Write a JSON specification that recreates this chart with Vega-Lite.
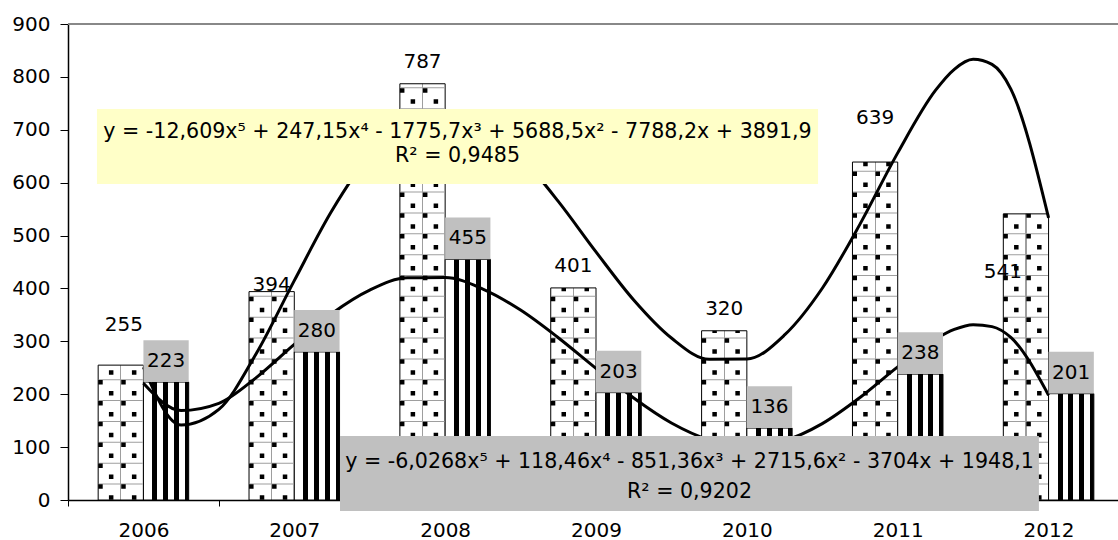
{
  "$schema": "https://vega.github.io/schema/vega-lite/v6.json",
  "width": 1050,
  "height": 476,
  "autosize": "none",
  "padding": {"left": 68, "top": 24, "right": 0, "bottom": 40},
  "background": "white",
  "config": {"view": {"stroke": null}, "font": "DejaVu Sans"},
  "datasets": {
    "bars": [
      {"year": "2006", "s": "A", "v": 255}, {"year": "2006", "s": "B", "v": 223},
      {"year": "2007", "s": "A", "v": 394}, {"year": "2007", "s": "B", "v": 280},
      {"year": "2008", "s": "A", "v": 787}, {"year": "2008", "s": "B", "v": 455},
      {"year": "2009", "s": "A", "v": 401}, {"year": "2009", "s": "B", "v": 203},
      {"year": "2010", "s": "A", "v": 320}, {"year": "2010", "s": "B", "v": 136},
      {"year": "2011", "s": "A", "v": 639}, {"year": "2011", "s": "B", "v": 238},
      {"year": "2012", "s": "A", "v": 541}, {"year": "2012", "s": "B", "v": 201}
    ],
    "trend": [
      {"s": "A", "t": 1, "v": 251.04}, {"s": "A", "t": 1.25, "v": 141.68}, {"s": "A", "t": 1.5, "v": 171.18},
      {"s": "A", "t": 1.75, "v": 277.98}, {"s": "A", "t": 2, "v": 414.81}, {"s": "A", "t": 2.25, "v": 547.23},
      {"s": "A", "t": 2.5, "v": 652.16}, {"s": "A", "t": 2.75, "v": 716.38}, {"s": "A", "t": 3, "v": 735.06},
      {"s": "A", "t": 3.25, "v": 710.31}, {"s": "A", "t": 3.5, "v": 649.65}, {"s": "A", "t": 3.75, "v": 564.58},
      {"s": "A", "t": 4, "v": 469.08}, {"s": "A", "t": 4.25, "v": 378.14}, {"s": "A", "t": 4.5, "v": 306.26},
      {"s": "A", "t": 4.75, "v": 266.01}, {"s": "A", "t": 5, "v": 266.53}, {"s": "A", "t": 5.25, "v": 312.04},
      {"s": "A", "t": 5.5, "v": 400.41}, {"s": "A", "t": 5.75, "v": 521.61}, {"s": "A", "t": 6, "v": 656.32},
      {"s": "A", "t": 6.25, "v": 774.35}, {"s": "A", "t": 6.375, "v": 814.37}, {"s": "A", "t": 6.5, "v": 833.26},
      {"s": "A", "t": 6.625, "v": 823.56}, {"s": "A", "t": 6.75, "v": 776.83}, {"s": "A", "t": 7, "v": 533.59},
      {"s": "B", "t": 1, "v": 220.77}, {"s": "B", "t": 1.25, "v": 169.23}, {"s": "B", "t": 1.5, "v": 182.8},
      {"s": "B", "t": 1.75, "v": 231.97}, {"s": "B", "t": 2, "v": 294.12}, {"s": "B", "t": 2.25, "v": 352.77},
      {"s": "B", "t": 2.5, "v": 396.89}, {"s": "B", "t": 2.75, "v": 420.22}, {"s": "B", "t": 3, "v": 420.53},
      {"s": "B", "t": 3.25, "v": 398.93}, {"s": "B", "t": 3.5, "v": 359.16}, {"s": "B", "t": 3.75, "v": 306.88},
      {"s": "B", "t": 4, "v": 248.98}, {"s": "B", "t": 4.25, "v": 192.85}, {"s": "B", "t": 4.5, "v": 145.68},
      {"s": "B", "t": 4.75, "v": 113.79}, {"s": "B", "t": 5, "v": 101.85}, {"s": "B", "t": 5.25, "v": 112.25},
      {"s": "B", "t": 5.5, "v": 144.34}, {"s": "B", "t": 5.75, "v": 193.76}, {"s": "B", "t": 6, "v": 251.7},
      {"s": "B", "t": 6.25, "v": 304.23}, {"s": "B", "t": 6.375, "v": 322.53}, {"s": "B", "t": 6.5, "v": 331.57},
      {"s": "B", "t": 6.625, "v": 327.83}, {"s": "B", "t": 6.75, "v": 307.37}, {"s": "B", "t": 7, "v": 198.05}
    ],
    "notes": [
      {"k": "eqA", "label": "y = -12,609x⁵ + 247,15x⁴ - 1775,7x³ + 5688,5x² - 7788,2x + 3891,9"},
      {"k": "r2A", "label": "R² = 0,9485"},
      {"k": "eqB", "label": "y = -6,0268x⁵ + 118,46x⁴ - 851,36x³ + 2715,6x² - 3704x + 1948,1"},
      {"k": "r2B", "label": "R² = 0,9202"}
    ]
  },
  "layer": [
    {
      "data": {"name": "bars"},
      "layer": [
        {
          "transform": [{"filter": "datum.s === 'A'"}],
          "mark": {
            "type": "bar", "stroke": "black", "strokeWidth": 1,
            "fill": {"gradient": "linear", "x1": 0, "y1": 0, "x2": 1, "y2": 0,
              "stops": [
                {"offset": 0, "color": "#ffffff"}, {"offset": 0.49, "color": "#ffffff"},
                {"offset": 0.49, "color": "#9e9e9e"}, {"offset": 0.515, "color": "#9e9e9e"},
                {"offset": 0.515, "color": "#ffffff"}, {"offset": 1, "color": "#ffffff"}
              ]}
          },
          "encoding": {
            "x": {"field": "year", "type": "nominal", "title": null,
              "scale": {"domain": ["2006", "2007", "2008", "2009", "2010", "2011", "2012"], "paddingInner": 0.4, "paddingOuter": 0.2, "range": [0, 1056]},
              "axis": {"bandPosition": 0, "tickOffset": -30.17, "labelOffset": 30.17, "labelAngle": 0,
                "domainColor": "black", "domainWidth": 1.5, "tickColor": "black", "tickWidth": 1, "tickSize": 6,
                "labelFont": "DejaVu Sans", "labelFontSize": 20, "labelColor": "black", "labelPadding": 14}},
            "xOffset": {"field": "s", "type": "nominal", "scale": {"domain": ["A", "B"], "paddingInner": 0, "paddingOuter": 0}},
            "y": {"field": "v", "type": "quantitative", "title": null,
              "scale": {"domain": [0, 900], "nice": false},
              "axis": {"values": [0, 100, 200, 300, 400, 500, 600, 700, 800, 900], "grid": false, "domainColor": "black", "domainWidth": 1.5,
                "tickColor": "black", "tickWidth": 1, "tickSize": 8, "labelPadding": 10,
                "labelFont": "DejaVu Sans", "labelFontSize": 20, "labelColor": "black"}}
          }
        },
        {
          "transform": [{"filter": "datum.s === 'B'"}],
          "mark": {
            "type": "bar", "stroke": "black", "strokeWidth": 1,
            "fill": {"gradient": "linear", "x1": 0, "y1": 0, "x2": 1, "y2": 0,
              "stops": [
                {"offset": 0, "color": "#ffffff"}, {"offset": 0.2, "color": "#ffffff"},
                {"offset": 0.2, "color": "#000000"}, {"offset": 0.31, "color": "#000000"},
                {"offset": 0.31, "color": "#ffffff"}, {"offset": 0.44, "color": "#ffffff"},
                {"offset": 0.44, "color": "#000000"}, {"offset": 0.55, "color": "#000000"},
                {"offset": 0.55, "color": "#ffffff"}, {"offset": 0.68, "color": "#ffffff"},
                {"offset": 0.68, "color": "#000000"}, {"offset": 0.79, "color": "#000000"},
                {"offset": 0.79, "color": "#ffffff"}, {"offset": 0.92, "color": "#ffffff"},
                {"offset": 0.92, "color": "#000000"}, {"offset": 1, "color": "#000000"}
              ]}
          },
          "encoding": {
            "x": {"field": "year", "type": "nominal", "title": null},
            "xOffset": {"field": "s", "type": "nominal", "scale": {"domain": ["A", "B"], "paddingInner": 0, "paddingOuter": 0}},
            "y": {"field": "v", "type": "quantitative", "title": null, "scale": {"domain": [0, 900], "nice": false}}
          }
        },
        {
          "transform": [{"filter": "datum.s === 'A'"}, {"stack": "v", "groupby": ["year", "s"], "as": ["v0", "v1"]}],
          "mark": {"type": "rule", "color": "#9e9e9e", "strokeWidth": 44, "strokeCap": "butt", "strokeDash": [1, 19.85], "strokeDashOffset": 5.35, "xOffset": 22.63},
          "encoding": {
            "x": {"field": "year", "type": "nominal", "bandPosition": 0, "title": null},
            "y": {"field": "v0", "type": "quantitative", "title": null, "scale": {"domain": [0, 900], "nice": false}},
            "y2": {"field": "v1"}
          }
        },
        {
          "transform": [{"filter": "datum.s === 'A'"}, {"stack": "v", "groupby": ["year", "s"], "as": ["v0", "v1"]}],
          "mark": {"type": "rule", "color": "black", "strokeWidth": 4.5, "strokeCap": "butt", "strokeDash": [4.5, 16.35], "strokeDashOffset": 9.65, "xOffset": 2.3},
          "encoding": {
            "x": {"field": "year", "type": "nominal", "bandPosition": 0, "title": null},
            "y": {"field": "v0", "type": "quantitative", "title": null, "scale": {"domain": [0, 900], "nice": false}},
            "y2": {"field": "v1"}
          }
        },
        {
          "transform": [{"filter": "datum.s === 'A'"}, {"stack": "v", "groupby": ["year", "s"], "as": ["v0", "v1"]}],
          "mark": {"type": "rule", "color": "black", "strokeWidth": 4.5, "strokeCap": "butt", "strokeDash": [4.5, 16.35], "strokeDashOffset": 9.65, "xOffset": 25.3},
          "encoding": {
            "x": {"field": "year", "type": "nominal", "bandPosition": 0, "title": null},
            "y": {"field": "v0", "type": "quantitative", "title": null, "scale": {"domain": [0, 900], "nice": false}},
            "y2": {"field": "v1"}
          }
        },
        {
          "transform": [{"filter": "datum.s === 'A'"}, {"stack": "v", "groupby": ["year", "s"], "as": ["v0", "v1"]}],
          "mark": {"type": "rule", "color": "black", "strokeWidth": 4.5, "strokeCap": "butt", "strokeDash": [4.5, 16.35], "strokeDashOffset": 20.65, "xOffset": 13},
          "encoding": {
            "x": {"field": "year", "type": "nominal", "bandPosition": 0, "title": null},
            "y": {"field": "v0", "type": "quantitative", "title": null, "scale": {"domain": [0, 900], "nice": false}},
            "y2": {"field": "v1"}
          }
        },
        {
          "transform": [{"filter": "datum.s === 'A'"}, {"stack": "v", "groupby": ["year", "s"], "as": ["v0", "v1"]}],
          "mark": {"type": "rule", "color": "black", "strokeWidth": 4.5, "strokeCap": "butt", "strokeDash": [4.5, 16.35], "strokeDashOffset": 20.65, "xOffset": 36},
          "encoding": {
            "x": {"field": "year", "type": "nominal", "bandPosition": 0, "title": null},
            "y": {"field": "v0", "type": "quantitative", "title": null, "scale": {"domain": [0, 900], "nice": false}},
            "y2": {"field": "v1"}
          }
        },
        {
          "data": {"values": [{}]},
          "mark": {"type": "rule", "color": "#888888", "strokeWidth": 2},
          "encoding": {
            "y": {"datum": 900, "type": "quantitative", "title": null, "scale": {"domain": [0, 900], "nice": false}}
          }
        }
      ]
    },
    {
      "data": {"name": "trend"},
      "mark": {"type": "line", "color": "black", "strokeWidth": 3, "interpolate": "monotone"},
      "encoding": {
        "x": {"field": "t", "type": "quantitative", "axis": null, "title": null,
          "scale": {"domain": [0.5, 7.5], "range": [0, 1056], "nice": false, "zero": false}},
        "y": {"field": "v", "type": "quantitative", "title": null, "scale": {"domain": [0, 900], "nice": false}},
        "detail": {"field": "s", "type": "nominal"}
      }
    },
    {
      "data": {"name": "bars"},
      "layer": [
        {
          "transform": [{"filter": "datum.s === 'B'"}],
          "mark": {"type": "point", "filled": true, "opacity": 1, "fill": "#c0c0c0", "strokeWidth": 0,
            "shape": "M-1,-0.92L1,-0.92L1,0.92L-1,0.92Z", "size": 2050, "yOffset": -21},
          "encoding": {
            "x": {"field": "year", "type": "nominal", "bandPosition": 0.75, "title": null, "axis": null,
              "scale": {"type": "band", "domain": ["2006", "2007", "2008", "2009", "2010", "2011", "2012"], "paddingInner": 0.4, "paddingOuter": 0.2, "range": [0, 1056]}},
            "y": {"field": "v", "type": "quantitative", "title": null, "scale": {"domain": [0, 900], "nice": false}}
          }
        },
        {
          "transform": [{"filter": "datum.s === 'B'"}],
          "mark": {"type": "text", "font": "DejaVu Sans", "fontSize": 20, "color": "black", "align": "center", "baseline": "middle", "yOffset": -21},
          "encoding": {
            "x": {"field": "year", "type": "nominal", "bandPosition": 0.75, "title": null},
            "y": {"field": "v", "type": "quantitative", "title": null, "scale": {"domain": [0, 900], "nice": false}},
            "text": {"field": "v", "type": "quantitative"}
          }
        },
        {
          "transform": [{"filter": "datum.s === 'A'"}],
          "mark": {"type": "text", "font": "DejaVu Sans", "fontSize": 20, "color": "black", "align": "center", "baseline": "middle", "yOffset": -22,
            "dx": {"expr": "datum.year === '2006' ? 3 : datum.year === '2012' ? -23 : 0"},
            "dy": {"expr": "datum.year === '2006' ? -18 : datum.year === '2007' ? 15 : datum.year === '2011' ? -22 : datum.year === '2012' ? 80 : 0"}},
          "encoding": {
            "x": {"field": "year", "type": "nominal", "bandPosition": 0.25, "title": null},
            "y": {"field": "v", "type": "quantitative", "title": null, "scale": {"domain": [0, 900], "nice": false}},
            "text": {"field": "v", "type": "quantitative"}
          }
        }
      ]
    },
    {
      "layer": [
        {
          "data": {"values": [{}]},
          "mark": {"type": "rect", "fill": "#ffffc8"},
          "encoding": {
            "x": {"datum": 0.692, "type": "quantitative", "axis": null, "title": null,
              "scale": {"domain": [0.5, 7.5], "range": [0, 1056], "nice": false, "zero": false}},
            "x2": {"datum": 5.472},
            "y": {"datum": 739.3, "type": "quantitative", "title": null, "scale": {"domain": [0, 900], "nice": false}},
            "y2": {"datum": 597.5}
          }
        },
        {
          "data": {"values": [{}]},
          "mark": {"type": "rect", "fill": "#c0c0c0"},
          "encoding": {
            "x": {"datum": 2.303, "type": "quantitative", "title": null},
            "x2": {"datum": 6.936},
            "y": {"datum": 121, "type": "quantitative", "title": null, "scale": {"domain": [0, 900], "nice": false}},
            "y2": {"datum": -20.8}
          }
        },
        {
          "data": {"name": "notes"},
          "transform": [{"filter": "datum.k === 'eqA'"}],
          "mark": {"type": "text", "font": "DejaVu Sans", "fontSize": 20.6, "color": "black", "align": "center", "baseline": "alphabetic"},
          "encoding": {
            "x": {"datum": 3.082, "type": "quantitative", "title": null},
            "y": {"datum": 684.5, "type": "quantitative", "title": null, "scale": {"domain": [0, 900], "nice": false}},
            "text": {"field": "label", "type": "nominal"}
          }
        },
        {
          "data": {"name": "notes"},
          "transform": [{"filter": "datum.k === 'r2A'"}],
          "mark": {"type": "text", "font": "DejaVu Sans", "fontSize": 20.6, "color": "black", "align": "center", "baseline": "alphabetic"},
          "encoding": {
            "x": {"datum": 3.082, "type": "quantitative", "title": null},
            "y": {"datum": 639.6, "type": "quantitative", "title": null, "scale": {"domain": [0, 900], "nice": false}},
            "text": {"field": "label", "type": "nominal"}
          }
        },
        {
          "data": {"name": "notes"},
          "transform": [{"filter": "datum.k === 'eqB'"}],
          "mark": {"type": "text", "font": "DejaVu Sans", "fontSize": 20.6, "color": "black", "align": "center", "baseline": "alphabetic"},
          "encoding": {
            "x": {"datum": 4.62, "type": "quantitative", "title": null},
            "y": {"datum": 60.5, "type": "quantitative", "title": null, "scale": {"domain": [0, 900], "nice": false}},
            "text": {"field": "label", "type": "nominal"}
          }
        },
        {
          "data": {"name": "notes"},
          "transform": [{"filter": "datum.k === 'r2B'"}],
          "mark": {"type": "text", "font": "DejaVu Sans", "fontSize": 20.6, "color": "black", "align": "center", "baseline": "alphabetic"},
          "encoding": {
            "x": {"datum": 4.62, "type": "quantitative", "title": null},
            "y": {"datum": 3.8, "type": "quantitative", "title": null, "scale": {"domain": [0, 900], "nice": false}},
            "text": {"field": "label", "type": "nominal"}
          }
        }
      ]
    }
  ],
  "resolve": {"scale": {"x": "independent"}, "axis": {"x": "independent"}}
}
